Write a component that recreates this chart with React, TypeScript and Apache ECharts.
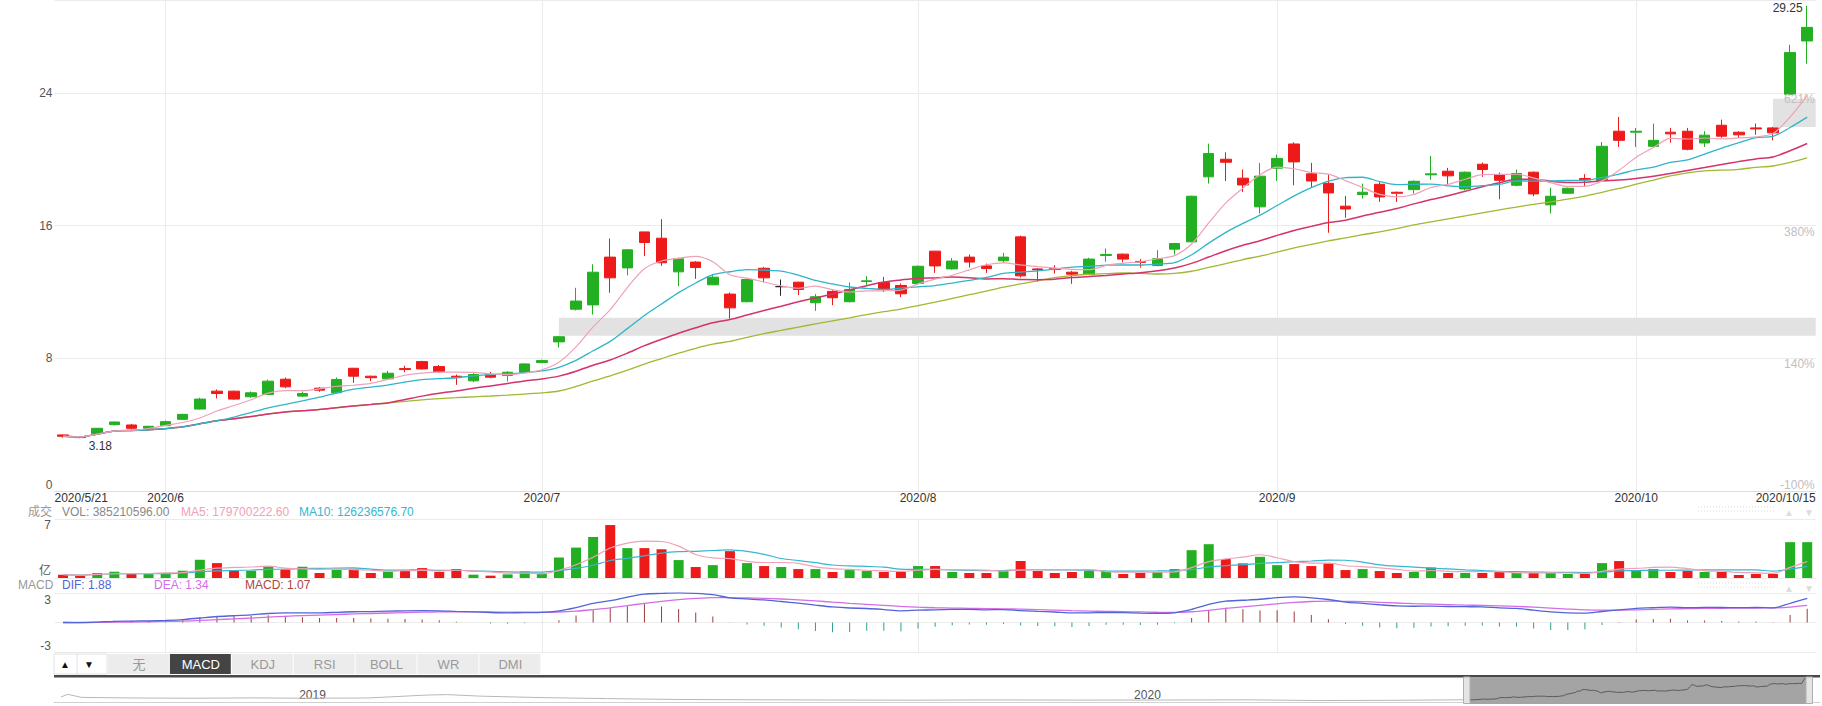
import React, { useEffect, useRef } from 'react';
import * as echarts from 'echarts';

// ---------- trading days (US calendar) ----------
const MAY = [21, 22, 26, 27, 28, 29];
const JUN = [1, 2, 3, 4, 5, 8, 9, 10, 11, 12, 15, 16, 17, 18, 19, 22, 23, 24, 25, 26, 29, 30];
const JUL = [1, 2, 6, 7, 8, 9, 10, 13, 14, 15, 16, 17, 20, 21, 22, 23, 24, 27, 28, 29, 30, 31];
const AUG = [3, 4, 5, 6, 7, 10, 11, 12, 13, 14, 17, 18, 19, 20, 21, 24, 25, 26, 27, 28, 31];
const SEP = [1, 2, 3, 4, 8, 9, 10, 11, 14, 15, 16, 17, 18, 21, 22, 23, 24, 25, 28, 29, 30];
const OCT = [1, 2, 5, 6, 7, 8, 9, 12, 13, 14, 15];

const monthLabels: Record<string, string> = {
  '2020/6/1': '2020/6',
  '2020/7/1': '2020/7',
  '2020/8/3': '2020/8',
  '2020/9/1': '2020/9',
  '2020/10/1': '2020/10',
};

// ---------- price data ----------
const opens = [
  3.38, 3.28, 3.47, 4.0, 3.98, 3.78, 3.94, 4.32, 4.94, 6.02,
  6.02, 5.68, 5.82, 6.74, 5.72, 6.2, 5.92, 7.4, 6.92, 6.76,
  7.38, 7.8, 7.5, 6.92, 6.64, 7.0, 6.96, 7.16, 7.75, 8.99,
  10.96, 11.22, 14.1, 13.45, 15.62, 15.24, 13.21, 13.8, 12.43, 11.87,
  11.41, 13.43, 12.32, 12.59, 11.35, 12.03, 11.41, 12.63, 12.57, 12.39,
  12.51, 14.46, 13.39, 14.1, 13.57, 13.88, 15.32, 13.39, 13.41, 13.19,
  13.05, 14.2, 14.28, 13.84, 13.59, 14.58, 15.02, 18.94, 20.0, 18.86,
  17.13, 19.46, 20.92, 19.12, 18.55, 17.17, 17.87, 18.49, 18.01, 18.17,
  19.06, 19.28, 18.21, 19.7, 19.06, 18.43, 19.22, 17.25, 17.95, 18.84,
  18.71, 21.69, 21.63, 20.78, 21.63, 21.69, 20.98, 22.05, 21.63, 21.89,
  21.89, 23.92, 27.13,
];
const closes = [
  3.3, 3.22, 3.78, 4.16, 3.78, 3.9, 4.18, 4.62, 5.54, 5.88,
  5.54, 5.92, 6.62, 6.28, 5.88, 6.08, 6.72, 6.92, 6.83, 7.1,
  7.32, 7.36, 7.2, 6.86, 7.02, 6.86, 7.16, 7.66, 7.86, 9.3,
  11.45, 13.19, 12.85, 14.54, 14.98, 13.76, 14.0, 13.47, 12.89, 11.04,
  12.75, 12.85, 12.32, 12.15, 11.71, 11.65, 12.15, 12.67, 12.17, 11.89,
  13.55, 13.57, 13.86, 13.8, 13.41, 14.1, 12.97, 13.33, 13.35, 13.07,
  13.98, 14.26, 13.98, 13.78, 14.0, 14.92, 17.77, 20.34, 19.82, 18.45,
  18.98, 20.05, 19.84, 18.69, 17.97, 17.0, 18.01, 17.73, 17.95, 18.67,
  19.12, 19.0, 19.22, 19.38, 18.73, 19.14, 17.91, 17.77, 18.25, 18.76,
  20.78, 21.14, 21.69, 21.14, 21.53, 20.6, 21.45, 21.39, 21.47, 21.83,
  21.59, 26.43, 27.95,
];
const lows = [
  3.22, 3.18, 3.45, 3.95, 3.72, 3.74, 3.92, 4.3, 4.92, 5.58,
  5.5, 5.62, 5.78, 6.2, 5.66, 5.98, 5.88, 6.52, 6.62, 6.72,
  7.16, 7.32, 7.12, 6.4, 6.56, 6.8, 6.6, 7.12, 7.7, 8.65,
  10.88, 10.64, 11.95, 13.0, 14.16, 13.57, 12.35, 12.79, 12.43, 10.4,
  11.37, 12.57, 11.77, 11.81, 10.86, 11.2, 11.37, 12.43, 12.0, 11.69,
  12.47, 13.15, 13.35, 13.47, 13.15, 13.76, 12.87, 12.61, 13.11, 12.49,
  13.01, 13.82, 13.78, 13.47, 13.55, 14.26, 15.0, 18.53, 18.69, 18.03,
  16.73, 18.69, 18.43, 18.29, 15.57, 16.47, 17.63, 17.43, 17.43, 17.93,
  18.77, 18.49, 18.13, 18.94, 17.59, 18.37, 17.77, 16.73, 17.91, 18.39,
  18.71, 20.74, 20.74, 20.74, 21.0, 20.54, 20.74, 21.29, 21.29, 21.47,
  21.14, 23.92, 25.76,
];
const highs = [
  3.4, 3.3, 3.8, 4.18, 4.05, 3.93, 4.25, 4.65, 5.62, 6.12,
  6.05, 6.0, 6.72, 6.84, 6.0, 6.26, 6.84, 7.42, 6.95, 7.25,
  7.55, 7.85, 7.6, 7.02, 7.1, 7.18, 7.22, 7.7, 7.92, 9.35,
  12.25, 13.67, 15.22, 14.58, 15.62, 16.39, 14.08, 13.86, 13.07, 11.97,
  12.79, 13.51, 12.75, 12.61, 11.87, 12.11, 12.57, 12.95, 12.91, 12.51,
  13.59, 14.46, 14.04, 14.26, 13.71, 14.36, 15.4, 13.43, 13.61, 13.27,
  14.06, 14.62, 14.32, 13.98, 14.52, 14.94, 17.8, 20.94, 20.42, 19.38,
  19.78, 20.28, 21.02, 19.78, 19.06, 17.79, 18.53, 18.63, 18.05, 18.73,
  20.2, 19.48, 19.26, 19.8, 19.2, 19.38, 19.26, 18.29, 18.29, 19.1,
  21.04, 22.55, 21.89, 22.15, 21.89, 21.89, 21.69, 22.39, 21.69, 22.15,
  21.95, 26.91, 29.25,
];
// volume in 亿 (1e8 shares)
const volumes = [
  0.44, 0.31, 0.66, 0.83, 0.66, 0.52, 0.66, 0.96, 2.41, 1.97,
  0.96, 0.96, 1.53, 1.09, 1.49, 0.66, 1.09, 1.22, 0.66, 0.83,
  1.0, 1.31, 0.79, 1.18, 0.44, 0.31, 0.48, 0.87, 0.66, 2.71,
  4.02, 5.42, 7.0, 3.95, 3.95, 3.8, 2.37, 1.45, 1.7, 3.55,
  1.97, 1.58, 1.45, 1.18, 1.18, 0.79, 1.05, 0.92, 0.79, 0.79,
  1.58, 1.58, 0.79, 0.66, 0.66, 0.92, 2.24, 0.92, 0.66, 0.79,
  0.92, 0.92, 0.53, 0.66, 0.79, 1.18, 3.68, 4.47, 2.5, 1.93,
  2.8, 1.7, 1.84, 1.58, 1.93, 1.05, 1.18, 0.92, 0.66, 0.79,
  1.4, 0.66, 0.66, 0.66, 0.79, 0.66, 0.66, 0.66, 0.53, 0.53,
  1.97, 2.24, 1.05, 1.18, 0.79, 0.92, 0.79, 0.79, 0.4, 0.53,
  0.53, 4.74, 4.74,
];

// price gaps shaded on the chart: start index, low, high
const gapStarts = [29, 100];
const gapLows = [9.36, 21.95];
const gapHighs = [10.44, 23.65];

const basePrice = 3.33; // reference price for the % scale
const priceTicks = [0, 8, 16, 24];

// navigator history (before the shown window)
const navHistDates = [
  '2018-09-13', '2018-09-16', '2018-09-22', '2018-10-15', '2018-11-10', '2018-12-05',
  '2018-12-30', '2019-01-25', '2019-02-20', '2019-03-01', '2019-03-15', '2019-04-10',
  '2019-05-10', '2019-06-10', '2019-07-10', '2019-08-15', '2019-09-20', '2019-10-25',
  '2019-12-01', '2020-01-10', '2020-02-15', '2020-03-15', '2020-04-15', '2020-05-20',
];
const navHistValues = [
  6.4, 9.4, 6.0, 5.3, 5.0, 5.4, 5.0, 5.3, 8.6, 9.1, 7.4, 5.8,
  4.6, 3.6, 3.3, 3.0, 2.8, 3.1, 2.9, 3.0, 3.2, 2.4, 2.6, 3.3,
];

const legendVol = ['VOL: 385210596.00', 'MA5: 179700222.60', 'MA10: 126236576.70'];
const legendMacd = ['DIF: 1.88', 'DEA: 1.34', 'MACD: 1.07'];
const tabs = ['无', 'MACD', 'KDJ', 'RSI', 'BOLL', 'WR', 'DMI'];

// ---------- colours ----------
const GREEN = '#22b022';
const RED = '#ee1a1a';
const FONT = 'Arial, "Liberation Sans", "Noto Sans CJK SC", sans-serif';

// ---------- helpers ----------
const dates: string[] = [
  ...MAY.map((d) => `2020/5/${d}`),
  ...JUN.map((d) => `2020/6/${d}`),
  ...JUL.map((d) => `2020/7/${d}`),
  ...AUG.map((d) => `2020/8/${d}`),
  ...SEP.map((d) => `2020/9/${d}`),
  ...OCT.map((d) => `2020/10/${d}`),
];
const N = dates.length;
const ts = (s: string) => {
  const p = s.split(/[-/]/).map(Number);
  return new Date(p[0], p[1] - 1, p[2]).getTime();
};

function movingAvg(arr: number[], n: number) {
  return arr.map((_, i) => {
    const s = Math.max(0, i - n + 1);
    let sum = 0;
    for (let k = s; k <= i; k++) sum += arr[k];
    return +(sum / (i - s + 1)).toFixed(3);
  });
}
function macdCalc(c: number[]) {
  let e12 = c[0], e26 = c[0], dea = 0;
  const dif: number[] = [], deaA: number[] = [], hist: number[] = [];
  c.forEach((v) => {
    e12 = e12 * 11 / 13 + v * 2 / 13;
    e26 = e26 * 25 / 27 + v * 2 / 27;
    const d = e12 - e26;
    dea = dea * 8 / 10 + d * 2 / 10;
    dif.push(+d.toFixed(4));
    deaA.push(+dea.toFixed(4));
    hist.push(+(2 * (d - dea)).toFixed(4));
  });
  return { dif, dea: deaA, hist };
}

function buildOption(): any {
  const ohlc = dates.map((_, i) => [opens[i], closes[i], lows[i], highs[i]]);
  const isUp = (i: number) => closes[i] >= opens[i];
  const m = macdCalc(closes);
  const monthIdx = dates.map((d, i) => (monthLabels[d] ? i : -1)).filter((i) => i >= 0);
  const splitFn = (i: number) => monthIdx.includes(i);
  const gridLine = { color: '#ebebeb', width: 1 };
  const isPriceTick = (v: number) => priceTicks.some((t) => Math.abs(t - v) < 1e-6);

  const catAxisHidden = (grid: number) => ({
    type: 'category', gridIndex: grid, data: dates, boundaryGap: true,
    axisLine: { show: false }, axisTick: { show: false }, axisLabel: { show: false },
    splitLine: { show: true, interval: splitFn, alignWithLabel: true, lineStyle: gridLine },
  });

  const tabX0 = 108, tabW = 61.9;
  const graphic: any[] = [];
  const txt = (x: number, y: number, text: string, fill: string, opts: any = {}) => ({
    type: 'text', x, y, silent: true,
    style: { text, fill, fontSize: 12, fontFamily: FONT, verticalAlign: 'middle', align: 'left', ...opts },
  });
  // volume legend
  graphic.push(txt(28, 512, '成交', '#999'));
  graphic.push(txt(62, 512, legendVol[0], '#888'));
  graphic.push(txt(181, 512, legendVol[1], '#f0a1b6'));
  graphic.push(txt(299, 512, legendVol[2], '#36b6cf'));
  graphic.push(txt(51, 525, '7', '#555', { align: 'right' }));
  graphic.push(txt(51, 571, '亿', '#555', { align: 'right' }));
  // macd legend
  graphic.push(txt(18, 585, 'MACD', '#999'));
  graphic.push(txt(62, 585, legendMacd[0], '#5264d6'));
  graphic.push(txt(154, 585, legendMacd[1], '#d36ee6'));
  graphic.push(txt(245, 585, legendMacd[2], '#a8463f'));
  graphic.push(txt(51, 600, '3', '#555', { align: 'right' }));
  graphic.push(txt(51, 646, '-3', '#555', { align: 'right' }));
  // faint controls at right
  [509, 585].forEach((y) => {
    graphic.push({ type: 'line', silent: true, shape: { x1: 1698, y1: y - 2, x2: 1775, y2: y - 2 }, style: { stroke: '#dcdcdc', lineWidth: 1, lineDash: [1, 2] } });
    graphic.push({ type: 'line', silent: true, shape: { x1: 1698, y1: y + 2, x2: 1775, y2: y + 2 }, style: { stroke: '#dcdcdc', lineWidth: 1, lineDash: [1, 2] } });
    graphic.push(txt(1789, y + 3, '▲', '#dddddd', { fontSize: 10, align: 'center' }));
    graphic.push(txt(1809, y + 3, '▼', '#dddddd', { fontSize: 10, align: 'center' }));
  });
  // tab bar
  graphic.push({ type: 'rect', silent: true, shape: { x: 54, y: 654, width: 53, height: 20 }, style: { fill: '#fff', stroke: '#e2e2e2', lineWidth: 1 } });
  graphic.push({ type: 'line', silent: true, shape: { x1: 77, y1: 654, x2: 77, y2: 674 }, style: { stroke: '#e2e2e2', lineWidth: 1 } });
  graphic.push(txt(65, 664, '▲', '#111', { fontSize: 10, align: 'center' }));
  graphic.push(txt(89, 664, '▼', '#111', { fontSize: 10, align: 'center' }));
  tabs.forEach((t, i) => {
    const x = tabX0 + i * tabW;
    const active = t === 'MACD';
    graphic.push({ type: 'rect', silent: true, shape: { x, y: 654, width: tabW - 1, height: 20 }, style: { fill: active ? '#444444' : '#ececec' } });
    graphic.push(txt(x + tabW / 2, 664, t, active ? '#ffffff' : '#999999', { fontSize: 13, align: 'center' }));
  });
  graphic.push({ type: 'rect', silent: true, shape: { x: 54, y: 675, width: 1766, height: 2.5 }, style: { fill: '#484848' } });
  // navigator handles
  graphic.push({ type: 'rect', silent: true, z: 10, shape: { x: 1463.5, y: 677, width: 6.5, height: 26.5 }, style: { fill: '#e4e4e4', stroke: '#b0b0b0', lineWidth: 1 } });
  graphic.push({ type: 'rect', silent: true, z: 10, shape: { x: 1806, y: 677, width: 6.5, height: 26.5 }, style: { fill: '#e4e4e4', stroke: '#b0b0b0', lineWidth: 1 } });

  const gapAreas = gapStarts.map((s, k) => [
    { xAxis: dates[s], yAxis: gapLows[k] },
    { yAxis: gapHighs[k] },
  ]);

  const maLine = (name: string, data: number[], color: string, width: number) => ({
    name, type: 'line', xAxisIndex: 0, yAxisIndex: 0, data, showSymbol: false, smooth: 0.3,
    lineStyle: { color, width }, itemStyle: { color }, silent: true, z: 3,
  });

  return {
    animation: false,
    backgroundColor: '#ffffff',
    textStyle: { fontFamily: FONT },
    graphic,
    grid: [
      { left: 54.5, right: 6.25, top: 0, height: 491 },
      { left: 54.5, right: 6.25, top: 519, height: 59 },
      { left: 54.5, right: 6.25, top: 593, height: 59 },
      { left: 54, right: 2, top: 677, height: 27 },
    ],
    xAxis: [
      {
        type: 'category', gridIndex: 0, data: dates, boundaryGap: true, position: 'bottom',
        axisLine: { show: true, lineStyle: { color: '#dddddd' } }, axisTick: { show: false },
        axisLabel: {
          interval: (i: number) => monthIdx.includes(i),
          formatter: (v: string) => monthLabels[v] || '',
          color: '#333', fontSize: 12, margin: 1,
        },
        splitLine: { show: true, interval: splitFn, alignWithLabel: true, lineStyle: gridLine },
      },
      {
        type: 'category', gridIndex: 0, data: dates, boundaryGap: false, position: 'bottom',
        axisLine: { show: false }, axisTick: { show: false }, splitLine: { show: false },
        axisLabel: {
          interval: (i: number) => i === 0 || i === N - 1,
          formatter: (v: string) => v,
          alignMinLabel: 'left', alignMaxLabel: 'right',
          color: '#333', fontSize: 12, margin: 1,
        },
      },
      catAxisHidden(1),
      catAxisHidden(2),
      {
        type: 'time', gridIndex: 3, min: ts('2018-09-10'), max: ts('2020-10-21'),
        axisLine: { show: true, lineStyle: { color: '#d0d0d0' } }, axisTick: { show: false },
        splitLine: { show: false }, splitNumber: 12,
        axisLabel: {
          inside: true, margin: 3, color: '#555', fontSize: 12, showMinLabel: false, showMaxLabel: false,
          formatter: (v: number) => {
            const d = new Date(v);
            return d.getMonth() === 0 && d.getDate() === 1 ? String(d.getFullYear()) : '';
          },
        },
      },
    ],
    yAxis: [
      {
        type: 'value', gridIndex: 0, min: priceTicks[0], max: 29.6, interval: 8, position: 'left',
        axisLine: { show: false }, axisTick: { show: false },
        axisLabel: {
          color: '#555', fontSize: 12, margin: 2, verticalAlignMinLabel: 'bottom',
          formatter: (v: number) => (isPriceTick(v) ? String(v) : ''),
        },
        splitLine: { show: true, lineStyle: gridLine },
      },
      {
        type: 'value', gridIndex: 0, min: priceTicks[0], max: 29.6, interval: 8, position: 'right', z: 6,
        axisLine: { show: false }, axisTick: { show: false }, splitLine: { show: false },
        axisLabel: {
          inside: true, margin: 1, color: '#c0c0c0', fontSize: 12,
          verticalAlign: 'top', verticalAlignMinLabel: 'bottom',
          formatter: (v: number) => (isPriceTick(v) ? `${Math.round((v / basePrice - 1) * 100)}%` : ''),
        },
      },
      {
        type: 'value', gridIndex: 1, min: 0, max: 7.8, interval: 7.8,
        axisLine: { show: false }, axisTick: { show: false }, axisLabel: { show: false },
        splitLine: { show: true, lineStyle: gridLine },
      },
      {
        type: 'value', gridIndex: 2, min: -2.3, max: 2.3, interval: 2.3,
        axisLine: { show: false }, axisTick: { show: false }, axisLabel: { show: false },
        splitLine: { show: true, lineStyle: gridLine },
      },
      {
        type: 'value', gridIndex: 3, min: -1.5, max: 29,
        axisLine: { show: false }, axisTick: { show: false }, axisLabel: { show: false }, splitLine: { show: false },
      },
    ],
    series: [
      {
        name: 'gaps', type: 'line', xAxisIndex: 0, yAxisIndex: 0, data: [], z: 1, silent: true,
        markArea: { silent: true, itemStyle: { color: '#e2e2e2' }, data: gapAreas },
      },
      {
        name: 'K', type: 'candlestick', xAxisIndex: 0, yAxisIndex: 0, data: ohlc, barWidth: 11, z: 2,
        itemStyle: { color: GREEN, color0: RED, borderColor: GREEN, borderColor0: RED, borderColorDoji: '#222', borderWidth: 1 },
        markPoint: {
          symbol: 'circle', symbolSize: 1, itemStyle: { color: 'rgba(0,0,0,0)' }, silent: true,
          data: [
            { type: 'max', valueDim: 'highest', label: { show: true, position: 'left', distance: 4, offset: [0, 2], color: '#333', fontSize: 12, formatter: (p: any) => String(p.value) } },
            { type: 'min', valueDim: 'lowest', label: { show: true, position: 'right', distance: 8, offset: [0, 8], color: '#333', fontSize: 12, formatter: (p: any) => String(p.value) } },
          ],
        },
      },
      maLine('MA30', movingAvg(closes, 30), '#a1b830', 1.3),
      maLine('MA20', movingAvg(closes, 20), '#d4336c', 1.5),
      maLine('MA10', movingAvg(closes, 10), '#2fb5c9', 1.3),
      maLine('MA5', movingAvg(closes, 5), '#f0a1b6', 1.2),
      {
        name: 'VOL', type: 'bar', xAxisIndex: 2, yAxisIndex: 2, data: volumes, barWidth: 10,
        itemStyle: { color: (p: any) => (isUp(p.dataIndex) ? GREEN : RED) },
      },
      {
        name: 'VMA10', type: 'line', xAxisIndex: 2, yAxisIndex: 2, data: movingAvg(volumes, 10), showSymbol: false, smooth: 0.3,
        lineStyle: { color: '#36b6cf', width: 1.2 }, silent: true, z: 3,
      },
      {
        name: 'VMA5', type: 'line', xAxisIndex: 2, yAxisIndex: 2, data: movingAvg(volumes, 5), showSymbol: false, smooth: 0.3,
        lineStyle: { color: '#f0a1b6', width: 1.2 }, silent: true, z: 3,
      },
      {
        name: 'MACD', type: 'bar', xAxisIndex: 3, yAxisIndex: 3, data: m.hist, barWidth: 1,
        itemStyle: { color: (p: any) => (p.value >= 0 ? '#9c3b3b' : '#2f9e8d') },
      },
      {
        name: 'DEA', type: 'line', xAxisIndex: 3, yAxisIndex: 3, data: m.dea, showSymbol: false, smooth: 0.3,
        lineStyle: { color: '#d36ee6', width: 1.3 }, silent: true, z: 3,
      },
      {
        name: 'DIF', type: 'line', xAxisIndex: 3, yAxisIndex: 3, data: m.dif, showSymbol: false, smooth: 0.3,
        lineStyle: { color: '#5264d6', width: 1.3 }, silent: true, z: 3,
      },
      {
        name: 'navHist', type: 'line', xAxisIndex: 4, yAxisIndex: 4, z: 1, silent: true,
        data: navHistDates.map((d, i) => [ts(d), navHistValues[i]]), showSymbol: false,
        lineStyle: { color: '#b8b8b8', width: 1 },
        markArea: {
          silent: true, itemStyle: { color: '#a4a4a4' },
          data: [[{ xAxis: ts(dates[0]) }, { xAxis: ts(dates[N - 1]) }]],
        },
      },
      {
        name: 'navWin', type: 'line', xAxisIndex: 4, yAxisIndex: 4, z: 3, silent: true,
        data: dates.map((d, i) => [ts(d), closes[i]]), showSymbol: false,
        lineStyle: { color: '#5c5c5c', width: 1 },
      },
    ],
  };
}

export default function App() {
  const ref = useRef<HTMLDivElement>(null);
  useEffect(() => {
    const chart = echarts.init(ref.current as HTMLDivElement, null, { renderer: 'svg' });
    chart.setOption(buildOption());
    return () => chart.dispose();
  }, []);
  return (
    <div
      ref={ref}
      style={{ position: 'absolute', left: 0, top: 0, width: 1822, height: 706, background: '#fff' }}
    />
  );
}
